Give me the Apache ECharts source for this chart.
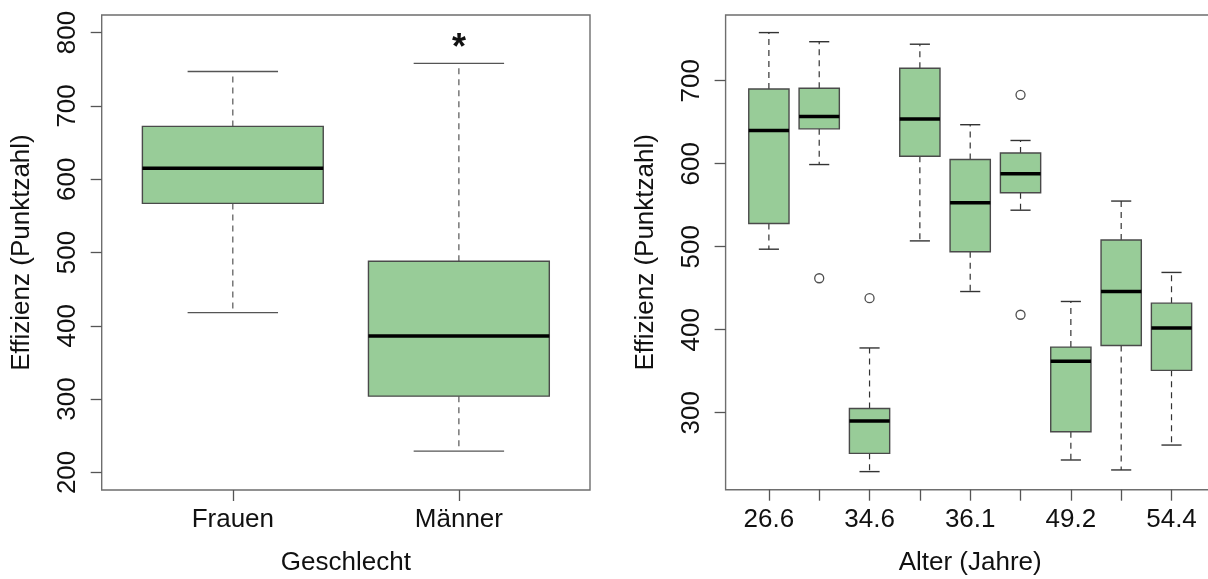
<!DOCTYPE html>
<html lang="de">
<head>
    <meta charset="UTF-8">
    <title>Effizienz nach Geschlecht und Alter</title>
    <script src="https://cdn.jsdelivr.net/npm/echarts@6/dist/echarts.min.js"></script>
    <style>
        html, body { margin: 0; padding: 0; background: #fff; overflow: hidden; }
        #chart { width: 1208px; height: 579px; }
    </style>
</head>
<body>
    <div id="chart"></div>
    <script>
        // linke Grafik: Geschlecht
        var sexGroups = ['Frauen', 'Männer'];
        var sexLow    = [418, 229];
        var sexQ1     = [567, 304];
        var sexMedian = [615, 386];
        var sexQ3     = [672, 488];
        var sexHigh   = [747, 758];
        var sexTicks  = [200, 300, 400, 500, 600, 700, 800];
        var sigMarks  = [[2, 778]];

        // rechte Grafik: Alter (nicht alle Beschriftungen sichtbar)
        var ageLabels = ['26.6', '', '34.6', '', '36.1', '', '49.2', '', '54.4'];
        var ageLow    = [497, 599, 229, 507, 446, 544, 243, 231, 261];
        var ageQ1     = [528, 642, 251, 609, 494, 565, 277, 381, 351];
        var ageMedian = [640, 657, 290, 654, 553, 588, 362, 446, 402];
        var ageQ3     = [690, 691, 305, 715, 605, 613, 379, 508, 432];
        var ageHigh   = [758, 747, 378, 744, 647, 628, 434, 555, 469];
        var ageOutliers = [[2, 462], [3, 438], [6, 683], [6, 418]];
        var ageTicks  = [300, 400, 500, 600, 700];

        var FONT = '"Liberation Sans", Arial, Helvetica, sans-serif';
        var GREEN = '#98cc98';

        function boxRows(low, q1, med, q3, high) {
            return low.map(function (v, i) {
                return [i + 1, v, q1[i], med[i], q3[i], high[i]];
            });
        }

        function makeRenderer(lineColor) {
            return function (params, api) {
                var x = api.value(0);
                var lo = api.value(1), q1 = api.value(2), md = api.value(3),
                    q3 = api.value(4), hi = api.value(5);
                var p = function (dx, v) { return api.coord([x + dx, v]); };
                var tl = p(-0.4, q3), br = p(0.4, q1);
                var whisker = { stroke: lineColor, lineWidth: 1.2, lineDash: [6, 5] };
                var cap = { stroke: lineColor, lineWidth: 1.4 };
                return {
                    type: 'group',
                    children: [
                        { type: 'line', shape: { x1: p(0, q3)[0], y1: p(0, q3)[1], x2: p(0, hi)[0], y2: p(0, hi)[1] }, style: whisker },
                        { type: 'line', shape: { x1: p(0, q1)[0], y1: p(0, q1)[1], x2: p(0, lo)[0], y2: p(0, lo)[1] }, style: whisker },
                        { type: 'line', shape: { x1: p(-0.2, hi)[0], y1: p(-0.2, hi)[1], x2: p(0.2, hi)[0], y2: p(0.2, hi)[1] }, style: cap },
                        { type: 'line', shape: { x1: p(-0.2, lo)[0], y1: p(-0.2, lo)[1], x2: p(0.2, lo)[0], y2: p(0.2, lo)[1] }, style: cap },
                        { type: 'rect', shape: { x: tl[0], y: tl[1], width: br[0] - tl[0], height: br[1] - tl[1] },
                          style: { fill: GREEN, stroke: '#4a4a4a', lineWidth: 1.4 } },
                        { type: 'line', shape: { x1: p(-0.4, md)[0], y1: p(-0.4, md)[1], x2: p(0.4, md)[0], y2: p(0.4, md)[1] },
                          style: { stroke: '#000', lineWidth: 3.5 } }
                    ]
                };
            };
        }

        var textStyle = { color: '#111', fontSize: 26, fontFamily: FONT };

        function yAxis(min, max, ticks, gridIndex, name) {
            return {
                type: 'value', gridIndex: gridIndex, min: min, max: max,
                name: name, nameLocation: 'middle', nameGap: 80,
                nameTextStyle: Object.assign({ align: 'center', verticalAlign: 'middle' }, textStyle),
                splitLine: { show: false },
                axisLine: { show: false },
                axisTick: { show: true, length: 11, customValues: ticks, lineStyle: { color: '#555', width: 1.3 } },
                axisLabel: Object.assign({ customValues: ticks, rotate: 90, margin: 34, align: 'center', verticalAlign: 'middle' }, textStyle)
            };
        }

        function xAxis(min, max, tickVals, labelVals, names, gridIndex, name) {
            return {
                type: 'value', gridIndex: gridIndex, min: min, max: max,
                name: name, nameLocation: 'middle', nameGap: 73,
                nameTextStyle: Object.assign({ align: 'center', verticalAlign: 'middle' }, textStyle),
                splitLine: { show: false },
                axisLine: { show: false },
                axisTick: { show: true, length: 11, customValues: tickVals, lineStyle: { color: '#555', width: 1.3 } },
                axisLabel: Object.assign({
                    customValues: labelVals, margin: 30, verticalAlign: 'middle',
                    formatter: function (v) { return names[Math.round(v) - 1]; }
                }, textStyle)
            };
        }

        var chart = echarts.init(document.getElementById('chart'));

        var option = {
            animation: false,
            backgroundColor: '#fff',
            grid: [
                { left: 101.7, top: 15, width: 488.3, height: 475, outerBoundsMode: 'none', containLabel: false,
                  show: true, borderColor: '#6e6e6e', borderWidth: 1.4, backgroundColor: 'transparent' },
                { left: 725.6, top: 15, width: 489.2, height: 474.7, outerBoundsMode: 'none', containLabel: false,
                  show: true, borderColor: '#6e6e6e', borderWidth: 1.4, backgroundColor: 'transparent' }
            ],
            xAxis: [
                xAxis(0.42, 2.58, [1, 2], [1, 2], sexGroups, 0, 'Geschlecht'),
                xAxis(0.14, 9.86, [1, 2, 3, 4, 5, 6, 7, 8, 9], [1, 3, 5, 7, 9], ageLabels, 1, 'Alter (Jahre)')
            ],
            yAxis: [
                yAxis(176, 824, sexTicks, 0, 'Effizienz (Punktzahl)'),
                yAxis(207.2, 779.2, ageTicks, 1, 'Effizienz (Punktzahl)')
            ],
            series: [
                {
                    type: 'custom', xAxisIndex: 0, yAxisIndex: 0,
                    renderItem: makeRenderer('#555'),
                    encode: { x: 0, y: [1, 2, 3, 4, 5] },
                    data: boxRows(sexLow, sexQ1, sexMedian, sexQ3, sexHigh)
                },
                {
                    type: 'custom', xAxisIndex: 0, yAxisIndex: 0,
                    renderItem: function (params, api) {
                        var pt = api.coord([api.value(0), api.value(1)]);
                        return {
                            type: 'text', x: pt[0], y: pt[1],
                            style: { text: '*', fill: '#111', fontSize: 36, fontWeight: 'bold', fontFamily: FONT, align: 'center', verticalAlign: 'middle' }
                        };
                    },
                    data: sigMarks
                },
                {
                    type: 'custom', xAxisIndex: 1, yAxisIndex: 1,
                    renderItem: makeRenderer('#333'),
                    encode: { x: 0, y: [1, 2, 3, 4, 5] },
                    data: boxRows(ageLow, ageQ1, ageMedian, ageQ3, ageHigh)
                },
                {
                    type: 'scatter', xAxisIndex: 1, yAxisIndex: 1,
                    symbol: 'circle', symbolSize: 9,
                    itemStyle: { color: '#fff', borderColor: '#222', borderWidth: 1.3 },
                    data: ageOutliers
                }
            ]
        };

        chart.setOption(option);

        window.addEventListener('resize', function () {
            chart.resize();
        });
    </script>
</body>
</html>
